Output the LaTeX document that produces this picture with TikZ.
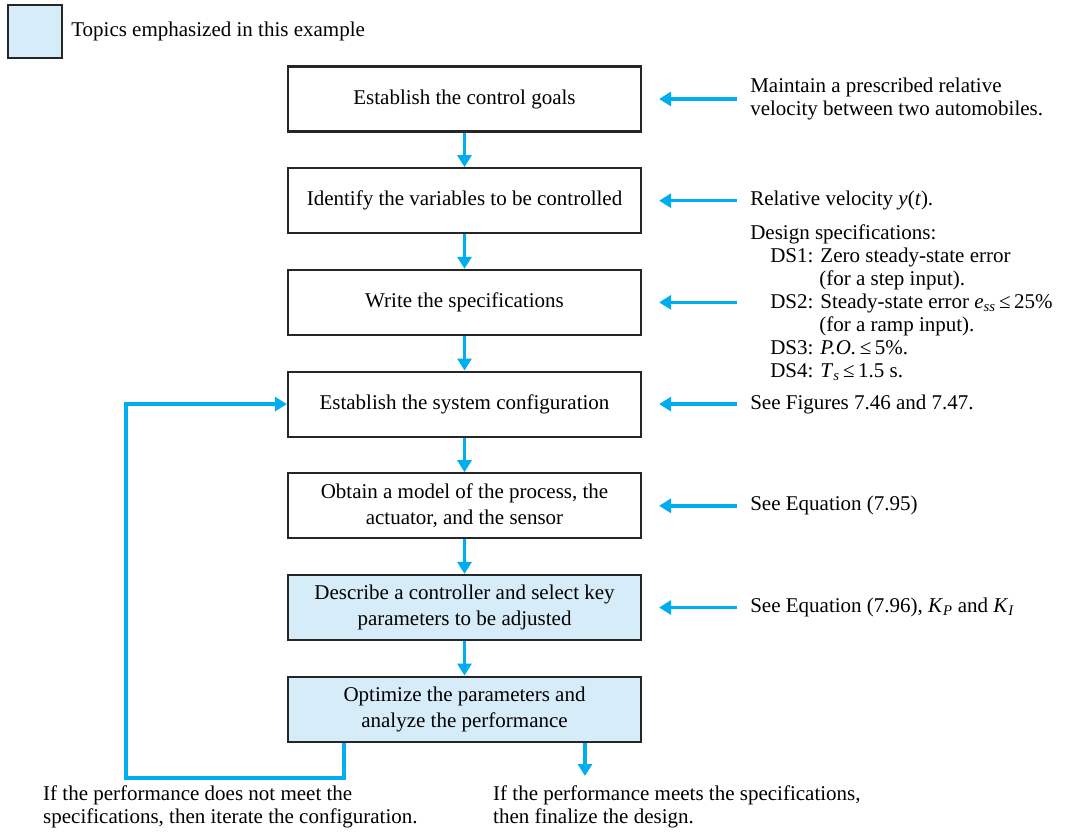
\documentclass[tikz,border=0pt]{standalone}
\usepackage{fontspec}
\setmainfont{Liberation Serif}
\usetikzlibrary{positioning, arrows.meta}
\definecolor{FlowBlue}{RGB}{0,174,239}
\definecolor{TopicBlue}{RGB}{214,236,249}
\definecolor{boxgrey}{RGB}{38,38,38}

\begin{document}
\begin{tikzpicture}[x=1pt, y=-1pt, node distance=34.5pt,
  stepbox/.style={draw=boxgrey, line width=2.2pt, minimum width=353pt, minimum height=65pt,
                  inner sep=0pt, align=center, font=\fontsize{21}{26}\selectfont},
  topicbox/.style={stepbox, fill=TopicBlue},
  note/.style={anchor=west, inner sep=0pt, align=left, font=\fontsize{21}{23}\selectfont},
  flow/.style={FlowBlue, line width=3.4pt, -{Triangle[length=12pt, width=14pt]}},
  side/.style={flow, shorten <=13pt, shorten >=17pt}]
  \useasboundingbox (0,0) rectangle (1073,834);

  % legend
  \node[draw=boxgrey, line width=2.2pt, fill=TopicBlue, minimum width=54pt, minimum height=53pt,
        inner sep=0pt] (legend) at (35,31.5) {};
  \node[note, right=8pt of legend] (legendtext) {Topics emphasized in this example};

  % design steps
  \node[stepbox] (goals) at (464.5,99) {Establish the control goals};
  \node[stepbox, below=of goals] (vars) {Identify the variables to be controlled};
  \node[stepbox, below=of vars] (specs) {Write the specifications};
  \node[stepbox, below=of specs] (config) {Establish the system configuration};
  \node[stepbox, below=of config] (model) {Obtain a model of the process, the\\actuator, and the sensor};
  \node[topicbox, below=of model] (ctrl) {Describe a controller and select key\\parameters to be adjusted};
  \node[topicbox, below=of ctrl] (optim) {Optimize the parameters and\\analyze the performance};

  \foreach \a/\b in {goals/vars, vars/specs, specs/config, config/model, model/ctrl, ctrl/optim}
    \draw[flow] (\a) -- (\b);

  % notes on the right
  \node[note, right=108pt of goals] (goalsnote) {Maintain a prescribed relative\\velocity between two automobiles.};
  \node[note, right=108pt of vars] (varsnote) {Relative velocity \textit{y}(\textit{t}).};
  \node[note, right=108pt of specs] (specsnote) {Design specifications:\\
    \hspace*{20pt}DS1: Zero steady-state error\\
    \hspace*{69pt}(for a step input).\\
    \hspace*{20pt}DS2: Steady-state error \textit{e}\textsubscript{\textit{ss}}\,≤\,25\%\\
    \hspace*{69pt}(for a ramp input).\\
    \hspace*{20pt}DS3: \textit{P.O.}\,≤\,5\%.\\
    \hspace*{20pt}DS4: \textit{T}\textsubscript{\textit{s}}\,≤\,1.5 s.};
  \node[note, right=108pt of config] (confignote) {See Figures 7.46 and 7.47.};
  \node[note, right=108pt of model] (modelnote) {See Equation (7.95)};
  \node[note, right=108pt of ctrl] (ctrlnote) {See Equation (7.96), \textit{K}\textsubscript{\textit{P}} and \textit{K}\textsubscript{\textit{I}}};

  \foreach \n in {goals, vars, specs, config, model, ctrl}
    \draw[side] (\n note.west |- \n.east) -- (\n.east);

  % iterate or finish
  \coordinate (loopcorner) at (126,778);
  \coordinate (finalend) at (585,776);
  \draw[flow] ([xshift=-120.5pt]optim.south) |- (loopcorner) |- (config.west);
  \draw[flow] (finalend |- optim.south) -- (finalend);

  \node[note, anchor=north west] (iterate) at (43,786) {If the performance does not meet the\\specifications, then iterate the configuration.};
  \node[note, anchor=north west] (finalize) at (493,786) {If the performance meets the specifications,\\then finalize the design.};
\end{tikzpicture}
\end{document}
